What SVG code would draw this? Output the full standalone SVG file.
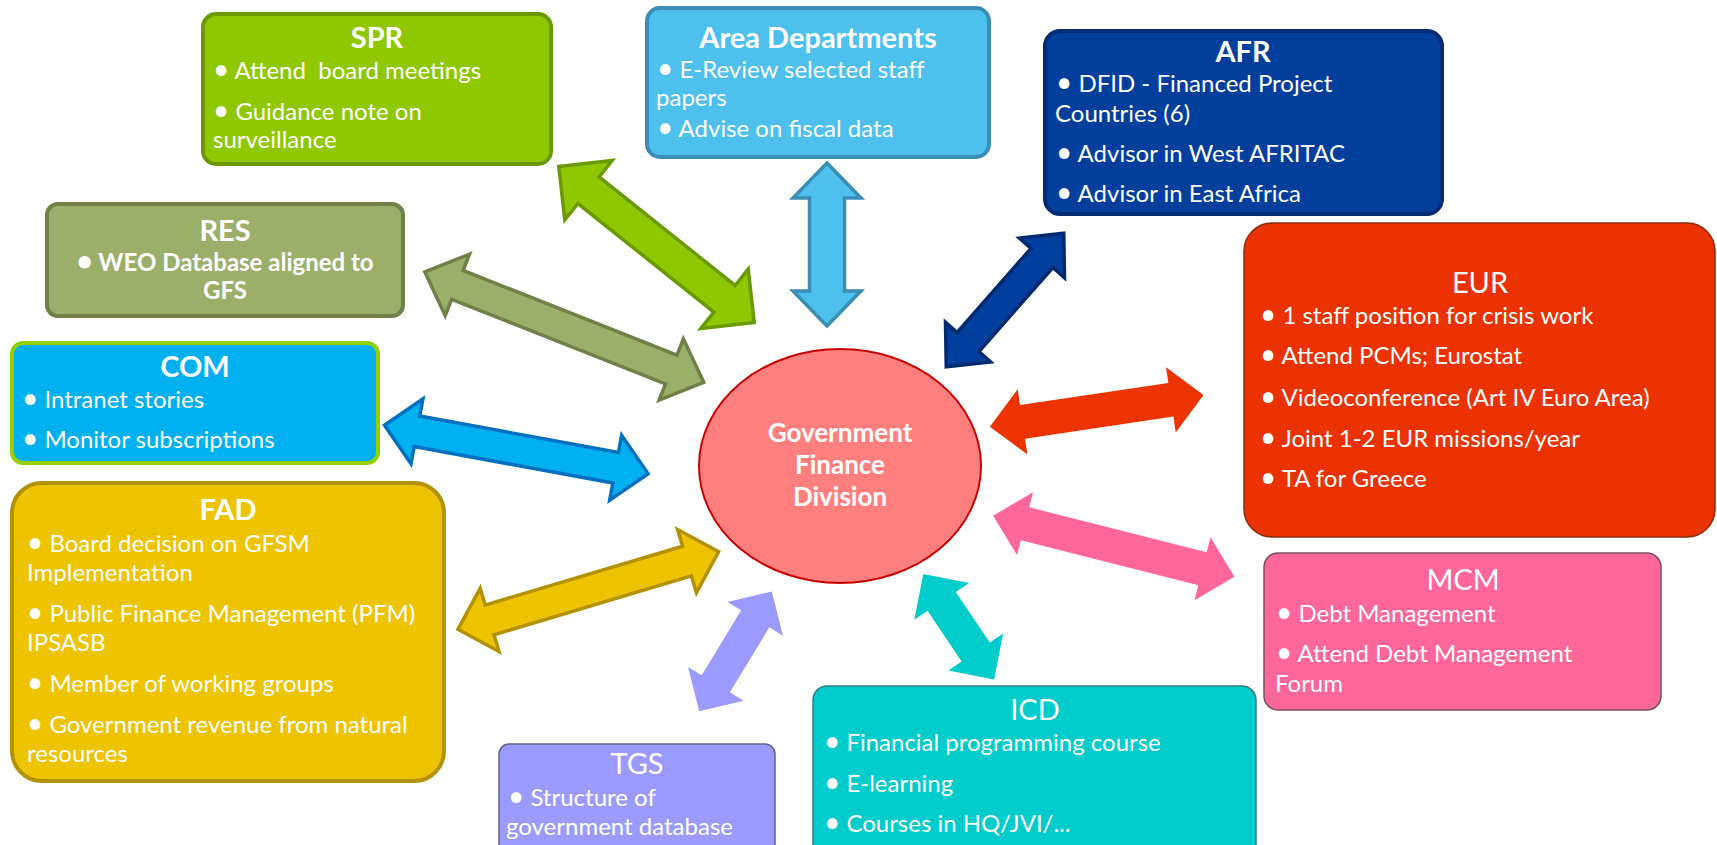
<svg xmlns="http://www.w3.org/2000/svg" width="1717" height="845" viewBox="0 0 1717 845">
<style>
.t{font-family:Lato,"Open Sans","Liberation Sans",sans-serif;fill:#fff;white-space:pre}
.h{font-weight:bold;font-size:29px;text-anchor:middle}
.hr{font-weight:normal;font-size:29px;text-anchor:middle}
.b{font-size:24px}
.bc{font-size:24px;font-weight:bold;text-anchor:middle}
.g{font-size:26px;font-weight:bold;text-anchor:middle}
.bu{font-size:28px}
.arr{stroke-width:3.5;stroke-linejoin:miter}
.box{stroke-width:4}
</style>
<rect width="1717" height="845" fill="#fff"/>
<g id="connectors">
<path class="arr" fill="#8fc800" stroke="#6b9a00" transform="translate(656.5,244.5) rotate(38.6)" d="M-125 0L-87 -38L-87 -17L87 -17L87 -38L125 0L87 38L87 17L-87 17L-87 38Z"/>
<path class="arr" fill="#4dc0ee" stroke="#3a8db5" stroke-linejoin="round" transform="translate(827,244.5) rotate(90)" d="M-81.5 0L-46.5 -34L-46.5 -17.5L46.5 -17.5L46.5 -34L81.5 0L46.5 34L46.5 17.5L-46.5 17.5L-46.5 34Z"/>
<path class="arr" fill="#9caf6a" stroke="#718048" transform="translate(564.3,327.2) rotate(21.6)" d="M-150 0L-115 -33L-115 -15.5L115 -15.5L115 -33L150 0L115 33L115 15.5L-115 15.5L-115 33Z"/>
<path class="arr" fill="#003f9e" stroke="#002a70" transform="translate(1005,300) rotate(-48.7)" d="M-89 0L-56 -30L-56 -14.5L56 -14.5L56 -30L89 0L56 30L56 14.5L-56 14.5L-56 30Z"/>
<path fill="#ec3300" transform="translate(1096.7,410.8) rotate(-8.45)" d="M-108 0L-75 -33L-75 -17L75 -17L75 -33L108 0L75 33L75 17L-75 17L-75 33Z"/>
<path fill="#ff6699" transform="translate(1113.8,546.2) rotate(14.2)" d="M-124.5 0L-91.5 -32.5L-91.5 -17L91.5 -17L91.5 -32.5L124.5 0L91.5 32.5L91.5 17L-91.5 17L-91.5 32.5Z"/>
<path class="arr" fill="#00b0f0" stroke="#0070c0" transform="translate(516.3,449.5) rotate(10.4)" d="M-134 0L-101 -33L-101 -15.5L101 -15.5L101 -33L134 0L101 33L101 15.5L-101 15.5L-101 33Z"/>
<path class="arr" fill="#eec300" stroke="#b49100" transform="translate(588.3,590.5) rotate(-16.6)" d="M-136 0L-103 -33L-103 -15.5L103 -15.5L103 -33L136 0L103 33L103 15.5L-103 15.5L-103 33Z"/>
<path fill="#9b9bff" transform="translate(735.5,651.3) rotate(-58.75)" d="M-70 0L-38 -32.5L-38 -16.5L38 -16.5L38 -32.5L70 0L38 32.5L38 16.5L-38 16.5L-38 32.5Z"/>
<path fill="#00cccc" transform="translate(958.7,626.7) rotate(56.1)" d="M-63.5 0L-30.5 -33L-30.5 -17L30.5 -17L30.5 -33L63.5 0L30.5 33L30.5 17L-30.5 17L-30.5 33Z"/>
</g>
<g id="gfd">
<ellipse cx="840" cy="466" rx="141" ry="117" fill="#ff7f7f" stroke="#c80000" stroke-width="2"/>
<text class="t g" x="840" y="442">Government</text>
<text class="t g" x="840" y="474">Finance</text>
<text class="t g" x="840" y="506">Division</text>
</g>
<g id="spr">
<rect class="box" x="203" y="14" width="348" height="150" rx="13" fill="#8fc800" stroke="#6b9a00"/>
<text class="t h" x="377" y="48">SPR</text>
<text class="t b" x="213" y="79"><tspan class="bu">•</tspan> Attend  board meetings</text>
<text class="t b" x="213" y="120"><tspan class="bu">•</tspan> Guidance note on</text>
<text class="t b" x="213" y="148">surveillance</text>
</g>
<g id="area">
<rect class="box" x="647" y="8" width="342" height="149" rx="13" fill="#4dc0ee" stroke="#3a8db5"/>
<text class="t h" x="818" y="48">Area Departments</text>
<text class="t b" x="657" y="78"><tspan class="bu">•</tspan> E-Review selected staff</text>
<text class="t b" x="656" y="106">papers</text>
<text class="t b" x="657" y="137"><tspan class="bu">•</tspan> Advise on fiscal data</text>
</g>
<g id="afr">
<rect class="box" x="1045" y="31" width="397" height="183" rx="15" fill="#023f9c" stroke="#022d74"/>
<text class="t h" x="1243" y="62">AFR</text>
<text class="t b" x="1056" y="92"><tspan class="bu">•</tspan> DFID - Financed Project</text>
<text class="t b" x="1055" y="122">Countries (6)</text>
<text class="t b" x="1056" y="162"><tspan class="bu">•</tspan> Advisor in West AFRITAC</text>
<text class="t b" x="1056" y="202"><tspan class="bu">•</tspan> Advisor in East Africa</text>
</g>
<g id="eur">
<rect x="1244" y="223" width="471" height="314" rx="28" fill="#ec3200" stroke="#8a2a10" stroke-width="1.5"/>
<text class="t hr" x="1480" y="293">EUR</text>
<text class="t b" x="1260" y="324"><tspan class="bu">•</tspan> 1 staff position for crisis work</text>
<text class="t b" x="1260" y="364"><tspan class="bu">•</tspan> Attend PCMs; Eurostat</text>
<text class="t b" x="1260" y="406"><tspan class="bu">•</tspan> Videoconference (Art IV Euro Area)</text>
<text class="t b" x="1260" y="447"><tspan class="bu">•</tspan> Joint 1-2 EUR missions/year</text>
<text class="t b" x="1260" y="487"><tspan class="bu">•</tspan> TA for Greece</text>
</g>
<g id="res">
<rect class="box" x="47" y="204" width="356" height="112" rx="11" fill="#9caf6a" stroke="#718048"/>
<text class="t h" x="225" y="241">RES</text>
<text class="t bc" x="225" y="271"><tspan class="bu">•</tspan> WEO Database aligned to</text>
<text class="t bc" x="225" y="299">GFS</text>
</g>
<g id="com">
<rect class="box" x="12" y="343" width="366" height="120" rx="11" fill="#00b0f0" stroke="#92d000"/>
<text class="t h" x="195" y="377">COM</text>
<text class="t b" x="22" y="408"><tspan class="bu">•</tspan> Intranet stories</text>
<text class="t b" x="22" y="448"><tspan class="bu">•</tspan> Monitor subscriptions</text>
</g>
<g id="fad">
<rect class="box" x="12" y="483" width="432" height="298" rx="30" fill="#eec300" stroke="#b49100"/>
<text class="t h" x="228" y="520">FAD</text>
<text class="t b" x="27" y="552"><tspan class="bu">•</tspan> Board decision on GFSM</text>
<text class="t b" x="27" y="581">Implementation</text>
<text class="t b" x="27" y="622"><tspan class="bu">•</tspan> Public Finance Management (PFM)</text>
<text class="t b" x="27" y="651">IPSASB</text>
<text class="t b" x="27" y="692"><tspan class="bu">•</tspan> Member of working groups</text>
<text class="t b" x="27" y="733"><tspan class="bu">•</tspan> Government revenue from natural</text>
<text class="t b" x="27" y="762">resources</text>
</g>
<g id="mcm">
<rect x="1264" y="553" width="397" height="157" rx="14" fill="#ff6699" stroke="#7a5060" stroke-width="1.5"/>
<text class="t hr" x="1463" y="590">MCM</text>
<text class="t b" x="1276" y="622"><tspan class="bu">•</tspan> Debt Management</text>
<text class="t b" x="1276" y="662"><tspan class="bu">•</tspan> Attend Debt Management</text>
<text class="t b" x="1275" y="692">Forum</text>
</g>
<g id="icd">
<rect x="813" y="686" width="443" height="175" rx="14" fill="#00cccc" stroke="#2f7f86" stroke-width="1.5"/>
<text class="t hr" x="1035" y="720">ICD</text>
<text class="t b" x="824" y="751"><tspan class="bu">•</tspan> Financial programming course</text>
<text class="t b" x="824" y="792"><tspan class="bu">•</tspan> E-learning</text>
<text class="t b" x="824" y="832"><tspan class="bu">•</tspan> Courses in HQ/JVI/...</text>
</g>
<g id="tgs">
<rect x="499" y="744" width="276" height="120" rx="10" fill="#9b9bff" stroke="#606090" stroke-width="1.5"/>
<text class="t hr" x="637" y="774">TGS</text>
<text class="t b" x="508" y="806"><tspan class="bu">•</tspan> Structure of</text>
<text class="t b" x="506" y="835">government database</text>
</g>
</svg>
